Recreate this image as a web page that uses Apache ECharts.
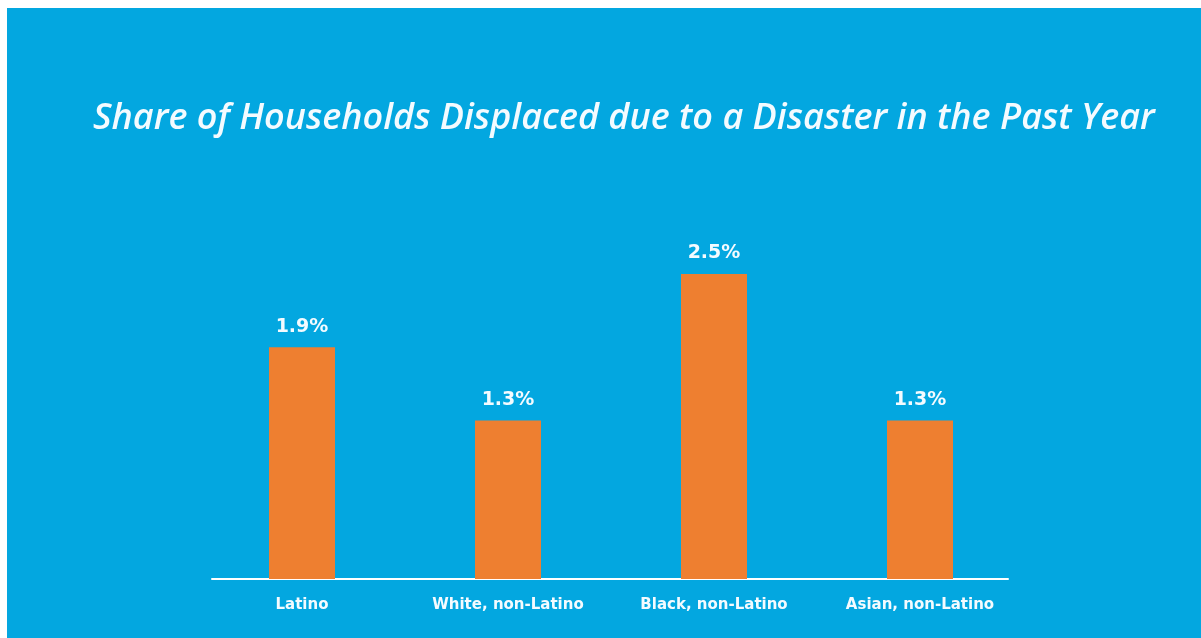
<!DOCTYPE html>
<html>
<head>
<meta charset="utf-8">
<script src="https://cdn.jsdelivr.net/npm/echarts@6/dist/echarts.min.js"></script>
<style>
html,body{margin:0;padding:0;background:#fff;}
#chart{position:absolute;left:7px;top:8px;width:1194px;height:630px;background:#03a7e0;}
</style>
</head>
<body>
<div id="chart"></div>
<script>
var categories = ['Latino', 'White, non-Latino', 'Black, non-Latino', 'Asian, non-Latino'];
var shares = [1.9, 1.3, 2.5, 1.3];
var titleText = 'Share of Households Displaced due to a Disaster in the Past Year';

var myChart = echarts.init(document.getElementById('chart'));
var option = {
  backgroundColor: '#03a7e0',
  animation: false,
  title: {
    text: titleText,
    left: 81,
    top: 88,
    textStyle: {
      color: '#f4fbff',
      fontFamily: 'Open Sans',
      fontStyle: 'italic',
      fontWeight: 600,
      fontSize: 36
    }
  },
  grid: [
    // bars
    {left: 192, width: 824, top: 205, height: 366},
    // baseline only
    {left: 205, width: 796, top: 205, height: 366}
  ],
  xAxis: [
    {
      type: 'category', gridIndex: 0, data: categories,
      axisLine: {show: false}, axisTick: {show: false},
      axisLabel: {
        color: '#f4fbff', fontFamily: 'DejaVu Sans', fontWeight: 'bold', fontSize: 15, margin: 19
      }
    },
    {
      type: 'value', gridIndex: 1, min: 0, max: 1, show: true,
      axisLine: {show: true, lineStyle: {color: '#ffffff', width: 2}},
      axisTick: {show: false}, axisLabel: {show: false}, splitLine: {show: false}
    }
  ],
  yAxis: [
    {type: 'value', gridIndex: 0, min: 0, max: 3, show: false},
    {type: 'value', gridIndex: 1, min: 0, max: 1, show: false}
  ],
  series: [{
    type: 'bar',
    xAxisIndex: 0, yAxisIndex: 0,
    data: shares,
    barWidth: 66,
    itemStyle: {color: '#ee7f30'},
    label: {
      show: true, position: 'top', distance: 11,
      formatter: function(p){ return p.value.toFixed(1) + '%'; },
      color: '#f4fbff', fontFamily: 'DejaVu Sans', fontWeight: 'bold', fontSize: 19
    }
  }]
};
myChart.setOption(option);
window.addEventListener("resize",function(){
  myChart.resize();
});
</script>
</body>
</html>
